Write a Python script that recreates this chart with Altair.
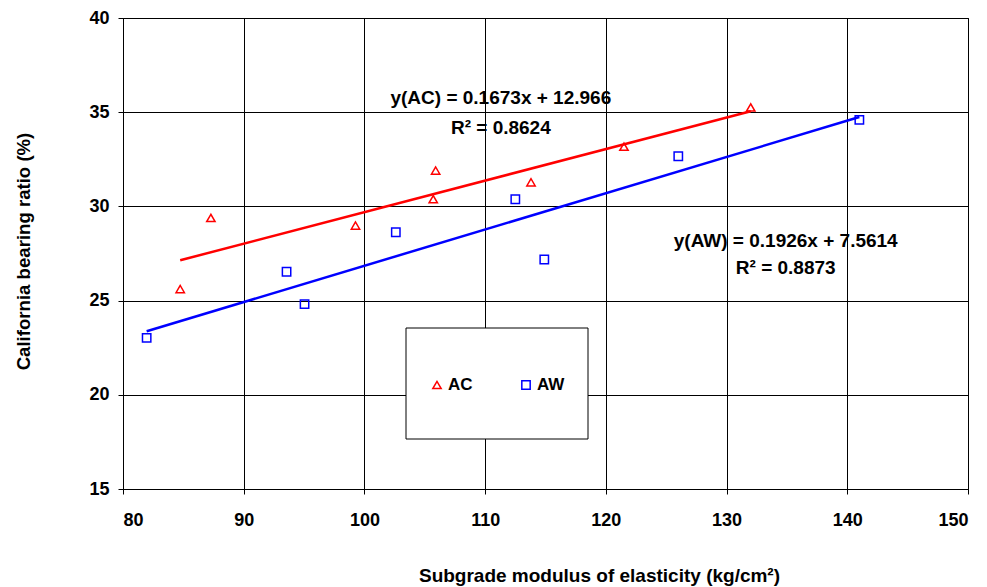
import altair as alt
import pandas as pd

# ---- data ----
series = ["AC", "AW"]
ac_x = [84.74, 87.28, 99.26, 105.7, 105.9, 113.8, 121.5, 132.0]
ac_y = [25.61, 29.39, 28.98, 30.38, 31.9, 31.28, 33.17, 35.25]
aw_x = [81.96, 93.55, 95.04, 102.6, 112.5, 114.9, 126.0, 141.0]
aw_y = [23.02, 26.53, 24.81, 28.63, 30.38, 27.18, 32.66, 34.59]
x_ticks = [80, 90, 100, 110, 120, 130, 140, 150]
y_ticks = [15, 20, 25, 30, 35, 40]
eq_text = ["y(AC) = 0.1673x + 12.966", "R² = 0.8624",
           "y(AW) = 0.1926x + 7.5614", "R² = 0.8873"]

df = pd.DataFrame({
    "x": ac_x + aw_x,
    "y": ac_y + aw_y,
    "series": [series[0]] * len(ac_x) + [series[1]] * len(aw_x),
})
one = pd.DataFrame({"k": [0]})

FONT = "Liberation Sans"
colors = ["#FF0000", "#0000FF"]
shapes = ["triangle-up", "square"]

xscale = alt.Scale(domain=[80, 150], nice=False, zero=False)
yscale = alt.Scale(domain=[15, 40], nice=False, zero=False)

xenc = alt.X("x:Q", scale=xscale,
             axis=alt.Axis(values=x_ticks, title="Subgrade modulus of elasticity (kg/cm²)",
                           labelPadding=17, titleX=476, titleY=86, titleBaseline="middle",
                           titleAlign="center", titleAnchor="start", titleFontSize=19))
yenc = alt.Y("y:Q", scale=yscale,
             axis=alt.Axis(values=y_ticks, title="California bearing ratio (%)",
                           labelPadding=9, titleX=-100, titleY=233, titleBaseline="middle",
                           titleAlign="center", titleAngle=270, titleAnchor="start",
                           titleFontSize=18.6))
color = alt.Color("series:N", scale=alt.Scale(domain=series, range=colors), legend=None)
shape = alt.Shape("series:N", scale=alt.Scale(domain=series, range=shapes), legend=None)

base = alt.Chart(df)

lines = base.transform_regression(
    "x", "y", groupby=["series"], method="linear"
).mark_line(strokeWidth=2.5).encode(x=xenc, y=yenc, color=color)

points = base.mark_point(filled=False, size=70, strokeWidth=1.5, opacity=1).encode(
    x=xenc, y=yenc, color=color, shape=shape)

# equation annotations, anchored in data coordinates
ann_df = pd.DataFrame({"text": eq_text,
                       "x": [111.3, 111.3, 134.9, 134.9],
                       "y": [35.76, 34.16, 28.19, 26.75]})
ann = alt.Chart(ann_df).mark_text(font=FONT, fontWeight="bold", fontSize=19, align="center",
                                  baseline="middle", color="black").encode(
    x=xenc, y=yenc, text="text:N")

# legend box
box = alt.Chart(one).mark_rect(fill="white", stroke="black", strokeWidth=1).encode(
    x=alt.value(283), x2=alt.value(465), y=alt.value(310), y2=alt.value(421))
leg_sym = [
    alt.Chart(one).mark_point(shape=shapes[i], color=colors[i], filled=False, size=70,
                              strokeWidth=1.5, opacity=1).encode(
        x=alt.value(314 + 89 * i), y=alt.value(367))
    for i in range(2)
]
leg_txt = [
    alt.Chart(one).mark_text(font=FONT, fontWeight="bold", fontSize=17, align="left",
                             baseline="middle", color="black").encode(
        x=alt.value(325 + 89 * i), y=alt.value(367), text=alt.value(series[i]))
    for i in range(2)
]

chart = alt.layer(lines, points, ann, box, *leg_sym, *leg_txt).properties(
    width=845, height=471,
    autosize=alt.AutoSizeParams(type="none"),
    padding={"left": 123, "top": 18, "right": 19, "bottom": 98},
    background="white",
).configure(
    view=alt.ViewConfig(stroke="black", strokeWidth=1),
    axis=alt.AxisConfig(
        grid=True, gridColor="black", gridOpacity=1, gridWidth=1,
        domainColor="black", domainWidth=1, tickColor="black", tickSize=5, tickWidth=1,
        labelFont=FONT, labelFontWeight="bold", labelFontSize=18, labelColor="black",
        titleFont=FONT, titleFontWeight="bold", titleColor="black",
    ),
    style={"guide-label": {"font": FONT, "fontWeight": "bold", "fontSize": 18,
                           "fill": "black"}},
)

chart.save("out.html", embed_options={"renderer": "svg", "actions": False})
